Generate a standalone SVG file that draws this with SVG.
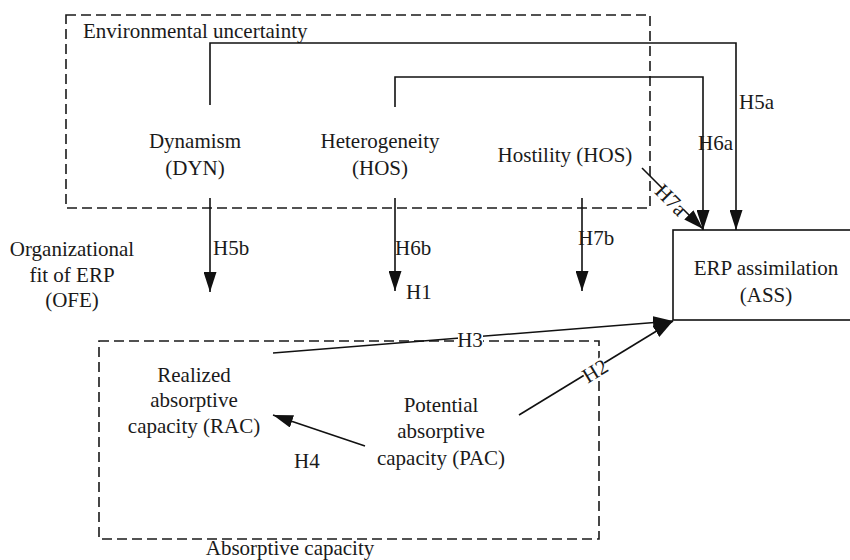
<svg xmlns="http://www.w3.org/2000/svg" width="850" height="560" viewBox="0 0 850 560" font-family="'Liberation Serif', 'Times New Roman', Times, serif" font-size="21">
<style>
text{font-family:'Liberation Serif','Times New Roman',Times,serif;font-size:21px;fill:#1a1a1a}
.c{text-anchor:middle}
.dash{fill:none;stroke:#1a1a1a;stroke-width:1.6;stroke-dasharray:10 5}
.ln{fill:none;stroke:#111;stroke-width:1.6}
.arr{marker-end:url(#ah)}
.bg{fill:#fff}
</style>
<defs>
<marker id="ah" markerUnits="userSpaceOnUse" markerWidth="20" markerHeight="13" refX="20" refY="6.5" orient="auto">
<path d="M0,0 L20,6.5 L0,13 z" fill="#111"/>
</marker>
</defs>
<rect width="850" height="560" fill="#fff"/>

<g id="env-box">
<rect class="dash" x="66" y="15" width="584" height="193"/>
<text x="83" y="38">Environmental uncertainty</text>
</g>
<g id="abs-box">
<rect class="dash" x="99" y="341" width="500" height="198"/>
<text class="c" x="290" y="555">Absorptive capacity</text>
</g>

<g id="connectors">
<polyline class="ln arr" points="210,105 210,43 736,43 736,230"/>
<polyline class="ln arr" points="395,107 395,77 703,77 703,230"/>
<line class="ln arr" x1="642" y1="168" x2="703" y2="229"/>
<line class="ln arr" x1="210" y1="198" x2="210" y2="292"/>
<line class="ln arr" x1="395" y1="198" x2="395" y2="291"/>
<line class="ln arr" x1="582" y1="198" x2="582" y2="291"/>
<line class="ln arr" x1="273" y1="353" x2="673" y2="321"/>
<line class="ln arr" x1="519" y1="415" x2="673" y2="321"/>
<line class="ln arr" x1="365" y1="446" x2="273" y2="415"/>
<g id="labels">
<text x="739" y="109">H5a</text>
<text x="698" y="150">H6a</text>
<g transform="translate(671,200) rotate(45)"><rect class="bg" x="-15" y="-9" width="30" height="17"/><text class="c" x="0" y="7">H7a</text></g>
<text x="213" y="255">H5b</text>
<text x="395" y="255">H6b</text>
<text x="578" y="245">H7b</text>
<text x="406" y="299">H1</text>
<rect class="bg" x="458" y="330" width="25" height="16"/>
<text class="c" x="470" y="347">H3</text>
<g transform="translate(595,371) rotate(-31.4)"><rect class="bg" x="-12" y="-9" width="24" height="17"/><text class="c" x="0" y="7">H2</text></g>
<text x="294" y="468">H4</text>
</g>
</g>

<g id="DYN">
<text class="c" x="195" y="148">Dynamism</text>
<text class="c" x="195" y="175">(DYN)</text>
</g>
<g id="HET">
<text class="c" x="380" y="148">Heterogeneity</text>
<text class="c" x="380" y="175">(HOS)</text>
</g>
<g id="HOS">
<text class="c" x="565" y="162">Hostility (HOS)</text>
</g>
<g id="OFE">
<text class="c" x="72" y="256">Organizational</text>
<text class="c" x="72" y="282">fit of ERP</text>
<text class="c" x="72" y="307">(OFE)</text>
</g>
<g id="ASS">
<rect x="673" y="230" width="200" height="90" fill="none" stroke="#111" stroke-width="1.6"/>
<text class="c" x="766" y="275">ERP assimilation</text>
<text class="c" x="766" y="302">(ASS)</text>
</g>
<g id="RAC">
<text class="c" x="194" y="382">Realized</text>
<text class="c" x="194" y="407">absorptive</text>
<text class="c" x="194" y="433">capacity (RAC)</text>
</g>
<g id="PAC">
<text class="c" x="441" y="412">Potential</text>
<text class="c" x="441" y="438">absorptive</text>
<text class="c" x="441" y="465">capacity (PAC)</text>
</g>
</svg>
